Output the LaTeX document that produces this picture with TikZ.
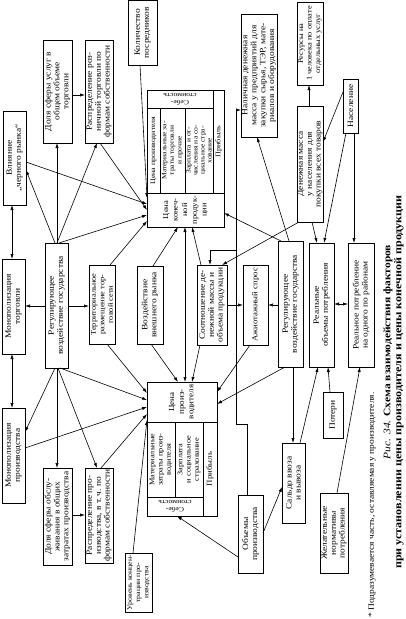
\documentclass[tikz,border=0pt]{standalone}
\usepackage{fontspec}
\setmainfont{Liberation Serif}[FakeStretch=1.15]
\usetikzlibrary{arrows.meta,calc}
\newcommand\mkbox[6]{%
 \pgfmathsetlengthmacro\bxh{#5-#3-2}%
 \node[bx, minimum width={(#4-#2)*1pt}, minimum height={(#5-#3)*1pt}] (#1) at ({(#2+#4)/2},{(#3+#5)/2}) {\rotatebox{90}{\parbox{\bxh}{\centering #6}}};}
\newcommand\mkcell[7]{%
 \pgfmathsetlengthmacro\bxh{#5-#3-2}%
 \node[inner sep=0pt, font=#7] (#1) at ({(#2+#4)/2},{(#3+#5)/2}) {\rotatebox{90}{\parbox{\bxh}{\centering #6}}};}
\newcommand\mkflip[7]{%
 \pgfmathsetlengthmacro\bxh{#4-#2-2}%
 \node[inner sep=0pt, font=#7] (#1) at ({(#2+#4)/2},{(#3+#5)/2}) {\rotatebox{180}{\parbox{\bxh}{\centering #6}}};}
\newcommand\sm{\fontsize{7.3}{8.4}\selectfont}
\newcommand\xsm{\fontsize{6.8}{8.2}\selectfont}
\tikzset{
 bx/.style={draw, line width=1pt, inner sep=0pt, outer sep=0pt, font=\fontsize{8.2}{8.9}\selectfont},
 ar/.style={-{Latex[length=5pt,width=3.2pt]}, line width=0.6pt},
 dar/.style={{Latex[length=5pt,width=3.2pt]}-{Latex[length=5pt,width=3.2pt]}, line width=0.6pt},
 inl/.style={line width=0.7pt}
}
\begin{document}
\begin{tikzpicture}[x=1pt,y=-1pt]
\useasboundingbox (0,0) rectangle (405,619);
% ---------- boxes
\mkbox{A}{3}{111}{26}{205}{Влияние\\„черного рынка“}
\mkbox{B1}{43}{40}{72}{143}{Доля сферы услуг в\\общем объеме\\торговли}
\mkbox{C1}{85}{40}{113}{143}{Распределение роз-\\ничной торговли по\\формам собственности}
\mkbox{K4}{128}{0}{157}{65}{Количество\\посредников}
\mkbox{K}{241}{14}{277}{137}{Наличная денежная\\масса у предприятий для\\закупки сырья, ТЭР, мате-\\риалов и оборудования}
\mkbox{U}{297}{2}{323}{85}{\sm Ресурсы на\\1 человека по оплате\\отдельных услуг}
\mkbox{T}{297}{106}{323}{222}{Денежная масса\\у населения для\\покупки всех товаров}
\mkbox{V}{343}{79}{358}{133}{Население}
\mkbox{D}{2}{259}{25}{354}{Монополизация\\торговли}
\mkbox{F}{45}{243}{68}{368}{Регулирующее\\воздействие государства}
\mkbox{G}{89}{265}{115}{344}{\sm Территориальное\\размещение тор-\\говой сети}
\mkbox{H}{137}{266}{163}{344}{Воздействие\\внешнего рынка}
\mkbox{I}{197}{265}{227}{345}{Соотношение де-\\нежной массы и\\объема продукции}
\mkbox{J}{243}{265}{268}{345}{\fontsize{7.6}{8.4}\selectfont Ажиотажный спрос}
\mkbox{L}{278}{241}{303}{367}{Регулирующее\\воздействие государства}
\mkbox{M}{309}{243}{334}{367}{Реальные\\объемы потребления}
\mkbox{N}{348}{243}{374}{367}{Реальное потребление\\на одного по районам}
\mkbox{E}{2}{408}{25}{503}{Монополизация\\производства}
\mkbox{B2}{43}{468}{72}{565}{Доля сферы обслу-\\живания в общих\\затратах производства}
\mkbox{C2}{85}{468}{113}{563}{Распределение про-\\изводства, в т.\,ч. по\\формам собственности}
\mkbox{S}{125}{553}{152}{612}{\xsm Уровень концен-\\трации про-\\изводства}
\mkbox{R}{238}{495}{263}{573}{Объемы\\производства}
\mkbox{P}{282}{443}{305}{523}{Сальдо ввоза\\и вывоза}
\mkbox{O}{323}{392}{343}{438}{Потери}
\mkbox{Q}{320}{493}{348}{573}{Желательные\\нормативы\\потребления}
% ---------- upper price box
\node[bx, minimum width=77pt, minimum height=137pt] (P1) at (185.5,158.5) {};
\draw[inl] (147,108) -- (213,108) (213,90) -- (213,193) (147,193) -- (224,193)
 (160,108) -- (160,193) (185,108) -- (185,193);
\mkflip{P1h}{147}{90}{213}{108}{Себе-\\стоимость}{\fontsize{6.6}{7.2}\selectfont}
\mkcell{P1a}{147}{108}{160}{193}{Цена производителя}{\fontsize{6.8}{7.4}\selectfont}
\mkcell{P1b}{160}{108}{185}{193}{Материальные за-\\траты торговли\\и прочие}{\fontsize{6.6}{7.6}\selectfont}
\mkcell{P1c}{185}{108}{213}{193}{Зарплата и от-\\числения на со-\\циальное стра-\\хование}{\fontsize{6.6}{7}\selectfont}
\mkcell{P1d}{213}{90}{224}{193}{Прибыль}{\fontsize{7}{7.4}\selectfont}
\mkcell{P1l}{147}{193}{224}{227}{Цена\\конеч-\\ной\\продук-\\ции}{\fontsize{7.4}{9.6}\selectfont}
% ---------- lower price box
\node[bx, minimum width=70pt, minimum height=134pt] (P2) at (182,449) {};
\draw[inl] (147,422) -- (217,422) (203,422) -- (203,516) (175,422) -- (175,497) (147,497) -- (203,497);
\mkcell{P2l}{147}{382}{217}{422}{Цена\\произ-\\водителя}{\fontsize{7.8}{9.6}\selectfont}
\mkcell{P2a}{147}{422}{175}{497}{Материальные\\затраты произ-\\водителя}{\fontsize{7.2}{8.2}\selectfont}
\mkcell{P2b}{175}{422}{203}{497}{Зарплата\\и социальное\\страхование}{\fontsize{7.2}{8.2}\selectfont}
\mkcell{P2c}{203}{422}{217}{516}{Прибыль}{\fontsize{7.6}{8}\selectfont}
\mkflip{P2h}{147}{497}{203}{516}{Себе-\\стоимость}{\fontsize{6.6}{7.2}\selectfont}
% ---------- caption
\node[rotate=90, inner sep=0pt, font=\fontsize{10}{11}\selectfont] (cap1) at (388,352) {\textit{Рис. 34.} \textbf{Схема взаимодействия факторов}};
\node[rotate=90, inner sep=0pt, font=\fontsize{10.5}{11}\selectfont] (cap2) at (399,382) {\textbf{при установлении цены производителя и цены конечной продукции}};
\node[rotate=90, inner sep=0pt, font=\fontsize{8.2}{9}\selectfont] (fn) at (372,505) {* Подразумевается часть, оставляемая у производителя.};
% ---------- connectors, left column
\draw[dar] (A.south -| 12,0) -- (D.north -| 12,0);
\draw[dar] (D.south -| 12,0) -- (E.north -| 12,0);
\draw[ar] (F.west |- 0,306) -- (D.east |- 0,306);
\draw[ar] (F.east |- 0,306) -- (G.west |- 0,306);
\draw[ar] (F.north -| 55,0) -- (A.east |- 0,170);
\draw[ar] (F.north -| 57,0) -- (B1.south -| 57,0);
\draw[ar] (F.north -| 57,0) -- (C1.south -| 97,0);
\draw[ar] (B1.east |- 0,95) -- (C1.west |- 0,95);
\draw[ar] (K4.south -| 140,0) -- (P1.west |- 0,198);
\draw[ar] (A.east |- 0,162) -- (P1.west |- 0,204);
\draw[ar] (C1.south -| 100,0) -- (P1.west |- 0,210);
\draw[ar] (F.north -| 59,0) -- (P1.west |- 0,215);
\draw[ar] (G.north -| 110,0) -- (P1.west |- 0,221);
\draw[ar] (H.north -| 153,0) -- (P1.south -| 178,0);
\draw[dar] (P1.south -| 185,0) -- (P2.north -| 185,0);
\draw[ar] (I.north -| 201,0) -- (P1.south -| 192,0);
\draw[ar] (F.south -| 55,0) -- (E.east |- 0,432);
\draw[ar] (F.south -| 57,0) -- (B2.north -| 57,0);
\draw[ar] (F.south -| 58,0) -- (C2.north -| 97,0);
\draw[ar] (F.south -| 60,0) -- (P2.west |- 0,400);
\draw[ar] (B2.east |- 0,515) -- (C2.west |- 0,515);
\draw[ar] (E.east |- 0,448) -- (P2.west |- 0,407);
\draw[ar] (C2.north -| 101,0) -- (P2.west |- 0,414);
\draw[ar] (S.north -| 133,0) -- (P2.west |- 0,420);
\draw[ar] (G.south -| 107,0) -- (P2.west |- 0,393);
\draw[ar] (H.south -| 151,0) -- (P2.north -| 178,0);
\draw[ar] (I.south -| 200,0) -- (P2.north -| 192,0);
% ---------- connectors, right part
\draw[ar] (I.east |- 0,305) -- (J.west |- 0,305);
\draw[ar] (L.west |- 0,305) -- (J.east |- 0,305);
\draw[dar] (M.east |- 0,304) -- (N.west |- 0,304);
\draw[ar] (J.south -| 250,0) -- (P2.east |- 0,392);
\draw[ar] (L.south -| 285,0) -- (P2.east |- 0,404);
\draw[ar] (T.north -| 309,0) -- (U.south -| 309,0);
\draw[ar] (V.west |- 0,92) -- (T.east |- 0,142);
\draw[ar] (V.south -| 354,0) -- (N.north -| 354,0);
\draw[ar] (V.south -| 346,0) -- (M.north -| 324,0);
\draw[ar] (T.south -| 312,0) -- (M.north -| 317,0);
\draw[ar] (L.north -| 289,0) -- (K.south -| 257,0);
\draw[ar] (L.north -| 281,0) -- (P1.east |- 0,213);
\draw[ar] (T.south -| 299,0) -- (I.north -| 222,0);
\draw[ar] (O.north -| 330,0) -- (M.south -| 328,0);
\draw[ar] (P.north -| 300,0) -- (M.south -| 318,0);
\draw[ar] (L.south -| 293,0) -- (P.north -| 293,0);
\draw[ar] (Q.north -| 337,0) -- (N.south -| 360,0);
\draw[ar] (R.east |- 0,533) -- (P.west |- 0,487);
\draw[ar] (R.west |- 0,557) -- (P2.south -| 177,0);
\draw[ar] (R.north -| 247,0) -- (247,424) -- (236,424) -- (236,250) -- (210,250) -- (I.north -| 210,0);
\draw[ar] (236,250) -- (236,110) -- (K.west |- 0,110);
\end{tikzpicture}
\end{document}
